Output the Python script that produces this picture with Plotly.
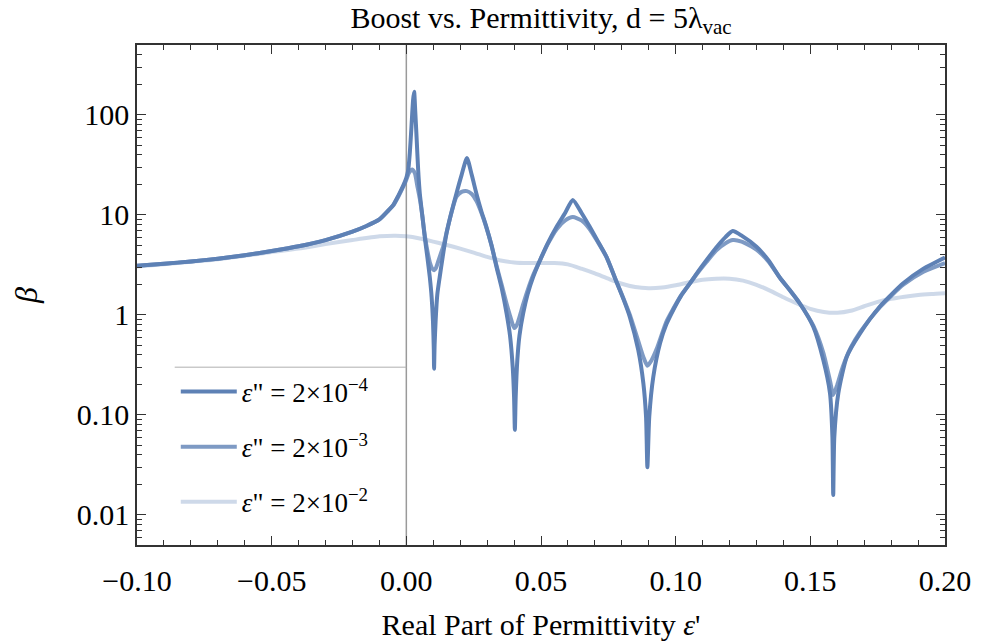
import plotly.graph_objects as go

# ---------------- data ----------------
x_a = [-0.100, -0.090, -0.080, -0.070, -0.060, -0.050, -0.040, -0.030, -0.020, -0.015,
       -0.010, -0.0065, -0.0049, -0.0030, -0.0012, 0.0000, 0.0007, 0.0013, 0.0019, 0.0025,
       0.0029, 0.0033, 0.0038, 0.0044, 0.0050, 0.0060, 0.0068, 0.0078, 0.0087, 0.0094,
       0.0099, 0.0102, 0.0103, 0.0105, 0.0109, 0.0115, 0.0124, 0.0135, 0.0149, 0.0167,
       0.0186, 0.0205, 0.0225, 0.0243, 0.0260, 0.0278, 0.0297, 0.0316, 0.0335, 0.0355,
       0.0372, 0.0385, 0.0395, 0.0400, 0.0403, 0.0406, 0.0412, 0.0420, 0.0434, 0.0450,
       0.0471, 0.0496, 0.0525, 0.0558, 0.0590, 0.0618, 0.0650, 0.0681, 0.0712, 0.0743,
       0.0782, 0.0810, 0.0830, 0.0861, 0.0880, 0.0890, 0.0895, 0.0902, 0.0917, 0.0942,
       0.0965, 0.0991, 0.1020, 0.1053, 0.1085, 0.1115, 0.1150, 0.1185, 0.1212, 0.1245,
       0.1300, 0.1345, 0.1387, 0.1425, 0.1461, 0.1511, 0.1548, 0.1573, 0.1582, 0.1585,
       0.1589, 0.1604, 0.1635, 0.1684, 0.1759, 0.1845, 0.1920, 0.2000]
beta_a = [3.10, 3.25, 3.42, 3.65, 3.95, 4.35, 4.85, 5.6, 6.8, 7.7,
          9.0, 11.2, 12.5, 15.5, 19.5, 23.5, 28, 42, 76, 140,
          170, 110, 60, 28, 16.4, 9.5, 6.1, 3.8, 2.4, 1.5,
          0.85, 0.45, 0.29, 0.5, 0.9, 1.6, 2.4, 3.8, 6.5, 10.5,
          16.4, 25, 37, 25, 16.4, 11, 7.6, 5.0, 3.0, 1.8,
          1.04, 0.62, 0.30, 0.15, 0.071, 0.15, 0.35, 0.62, 1.04, 1.6,
          2.4, 3.5, 5.2, 7.6, 10.5, 14.1, 10.5, 7.6, 5.4, 3.8,
          2.08, 1.35, 0.95, 0.446, 0.207, 0.096, 0.030, 0.096, 0.241, 0.52,
          0.80, 1.12, 1.55, 2.07, 2.75, 3.54, 4.7, 6.0, 6.9, 6.2,
          4.8, 3.5, 2.35, 1.75, 1.3, 0.76, 0.355, 0.165, 0.06, 0.0158,
          0.06, 0.165, 0.38, 0.65, 1.22, 2.07, 2.9, 3.75]

x_b = [-0.100, -0.090, -0.080, -0.070, -0.060, -0.050, -0.040, -0.030, -0.020, -0.015,
       -0.010, -0.0065, -0.0049, -0.0030, -0.0012, 0.0000, 0.0010, 0.0022, 0.0032, 0.0040,
       0.0050, 0.0060, 0.0068, 0.0078, 0.0088, 0.0096, 0.0103, 0.0110, 0.0118, 0.0128,
       0.0138, 0.0149, 0.0167, 0.0186, 0.0205, 0.0225, 0.0243, 0.0260, 0.0278, 0.0297,
       0.0316, 0.0335, 0.0355, 0.0372, 0.0385, 0.0395, 0.0401, 0.0410, 0.0420, 0.0434,
       0.0450, 0.0471, 0.0496, 0.0525, 0.0558, 0.0590, 0.0618, 0.0650, 0.0681, 0.0712,
       0.0743, 0.0782, 0.0810, 0.0830, 0.0861, 0.0880, 0.0895, 0.0910, 0.0930, 0.0965,
       0.0991, 0.1020, 0.1053, 0.1085, 0.1115, 0.1150, 0.1185, 0.1212, 0.1245, 0.1300,
       0.1345, 0.1387, 0.1425, 0.1461, 0.1511, 0.1548, 0.1573, 0.1585, 0.1600, 0.1620,
       0.1650, 0.1684, 0.1759, 0.1845, 0.1920, 0.2000]
beta_b = [3.10, 3.25, 3.42, 3.65, 3.95, 4.35, 4.85, 5.6, 6.8, 7.7,
          9.0, 11.2, 12.4, 15.2, 19.0, 22.5, 26.5, 28.5, 26, 20,
          14.5, 9.5, 6.4, 4.4, 3.3, 2.9, 2.8, 2.95, 3.4, 4.1,
          4.9, 6.6, 10.4, 15.2, 17.0, 17.3, 16.2, 13.8, 10.6, 7.5,
          5.0, 3.1, 1.95, 1.3, 0.98, 0.8, 0.74, 0.79, 0.95, 1.28,
          1.75, 2.5, 3.5, 5.1, 7.2, 8.8, 9.5, 8.8, 7.2, 5.3,
          3.8, 2.1, 1.38, 1.0, 0.55, 0.38, 0.31, 0.35, 0.46, 0.85,
          1.15, 1.57, 2.07, 2.7, 3.4, 4.4, 5.2, 5.6, 5.4, 4.5,
          3.4, 2.35, 1.75, 1.3, 0.78, 0.42, 0.22, 0.158, 0.2, 0.3,
          0.47, 0.67, 1.2, 2.0, 2.7, 3.3]

x_c = [-0.100, -0.090, -0.080, -0.070, -0.060, -0.050, -0.040, -0.030, -0.020, -0.010,
       -0.004, 0.000, 0.005, 0.010, 0.015, 0.020, 0.025, 0.030, 0.035, 0.040,
       0.045, 0.050, 0.055, 0.060, 0.065, 0.070, 0.075, 0.080, 0.085, 0.090,
       0.095, 0.100, 0.105, 0.110, 0.115, 0.120, 0.125, 0.130, 0.135, 0.140,
       0.145, 0.150, 0.155, 0.160, 0.165, 0.170, 0.175, 0.180, 0.185, 0.190,
       0.195, 0.200]
beta_c = [3.05, 3.2, 3.4, 3.6, 3.9, 4.25, 4.6, 5.1, 5.6, 6.1,
          6.2, 6.1, 5.8, 5.4, 5.0, 4.6, 4.2, 3.8, 3.5, 3.35,
          3.3, 3.3, 3.3, 3.2, 2.9, 2.6, 2.3, 2.05, 1.9, 1.85,
          1.88, 1.98, 2.12, 2.25, 2.3, 2.3, 2.2, 2.0, 1.75, 1.5,
          1.3, 1.15, 1.07, 1.05, 1.1, 1.22, 1.35, 1.45, 1.52, 1.58,
          1.62, 1.65]

series_names = ["<i>ε</i>\" = 2×10<sup>−4</sup>",
                "<i>ε</i>\" = 2×10<sup>−3</sup>",
                "<i>ε</i>\" = 2×10<sup>−2</sup>"]

x_tickvals = [-0.10, -0.05, 0.00, 0.05, 0.10, 0.15, 0.20]
x_ticktext = ["−0.10", "−0.05", "0.00", "0.05", "0.10", "0.15", "0.20"]
y_tickvals = [0.01, 0.1, 1, 10, 100]
y_ticktext = ["0.01", "0.10", "1", "10", "100"]

# ---------------- styling ----------------
FONT = "Liberation Serif"
base = "94,129,181"
colors = [f"rgba({base},1)", f"rgba({base},0.8)", f"rgba({base},0.3)"]

fig = go.Figure()
for i, (xs, ys) in enumerate([(x_a, beta_a), (x_b, beta_b), (x_c, beta_c)]):
    fig.add_trace(go.Scatter(x=xs, y=ys, mode="lines", name=series_names[i],
                             legendgroup=f"g{i}",
                             line=dict(color=colors[i], width=4, shape="spline", smoothing=0.6)))

minor_y = []
for k in range(-3, 3):
    for m in range(2, 10):
        v = m * 10 ** k
        if 0.005 <= v <= 500:
            minor_y.append(v)

axis_common = dict(showline=True, linecolor="#333", linewidth=1.5, mirror="allticks",
                   ticks="inside", tickcolor="#333", tickwidth=1.2, showgrid=False,
                   zeroline=False, automargin=False,
                   tickfont=dict(family=FONT, size=30, color="black"))

fig.update_layout(
    width=992, height=641,
    margin=dict(l=137, r=47, t=45, b=96),
    paper_bgcolor="white", plot_bgcolor="white",
    title=dict(text="Boost vs. Permittivity, d = 5λ<sub>vac</sub>",
               font=dict(family=FONT, size=30, color="black"),
               x=0.5, xref="paper", xanchor="center",
               y=1 - 17 / 641, yref="container", yanchor="middle"),
    xaxis=dict(range=[-0.1, 0.2], tickvals=x_tickvals, ticktext=x_ticktext, ticklen=9,
               minor=dict(ticks="inside", dtick=0.01, ticklen=5, tickcolor="#333", showgrid=False),
               ticklabelstandoff=8,
               title=dict(text="Real Part of Permittivity <i>ε</i>'",
                          font=dict(family=FONT, size=30, color="black"), standoff=18),
               **axis_common),
    yaxis=dict(type="log", range=[-2.30103, 2.69897], tickvals=y_tickvals, ticktext=y_ticktext,
               ticklen=9,
               minor=dict(ticks="inside", tickvals=minor_y, ticklen=5, tickcolor="#333", showgrid=False),
               ticklabelstandoff=0,
               title=dict(text="<i>β</i>", font=dict(family=FONT, size=32, color="black"), standoff=30),
               **axis_common),
    legend=dict(x=0.048, y=0.355, xanchor="left", yanchor="top",
                bgcolor="rgba(0,0,0,0)", borderwidth=0,
                font=dict(family=FONT, size=27, color="black"),
                tracegroupgap=17, itemwidth=56),
    showlegend=True,
)

# zero line and legend frame
fig.add_shape(type="line", xref="x", yref="paper", x0=0, x1=0, y0=0, y1=1,
              line=dict(color="#9a9a9a", width=1.5), layer="below")
fig.add_shape(type="line", xref="x", yref="y", x0=-0.086, x1=0, y0=0.3, y1=0.3,
              line=dict(color="#b0b0b0", width=1), layer="below")

fig.write_html("out.html")
